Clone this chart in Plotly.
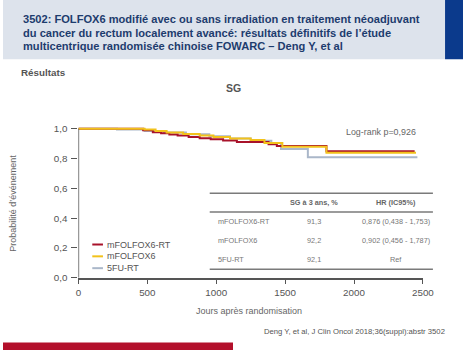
import plotly.graph_objects as go

W, H = 474, 355

# ---------------- data ----------------
series_names = ["mFOLFOX6-RT", "mFOLFOX6", "5FU-RT"]
series_colors = ["#a8122a", "#f2c21b", "#aab7c9"]

days_rt = [0, 470, 540, 600, 660, 720, 800, 880, 960, 1050, 1150, 1380, 1440, 1800, 2440]
surv_rt = [1.0, 0.99, 0.978, 0.97, 0.962, 0.955, 0.945, 0.937, 0.93, 0.922, 0.912, 0.897, 0.885, 0.85, 0.85]

days_fx = [0, 480, 560, 640, 760, 880, 980, 1100, 1250, 1350, 1480, 1800, 2450]
surv_fx = [1.0, 0.995, 0.985, 0.975, 0.965, 0.955, 0.945, 0.935, 0.925, 0.905, 0.88, 0.84, 0.84]

days_5fu = [0, 280, 480, 620, 780, 950, 1100, 1250, 1400, 1470, 1665, 2460]
surv_5fu = [1.0, 0.995, 0.985, 0.975, 0.963, 0.95, 0.935, 0.92, 0.905, 0.865, 0.81, 0.81]

x_ticks = [0, 500, 1000, 1500, 2000, 2500]
y_ticks = [0.0, 0.2, 0.4, 0.6, 0.8, 1.0]
y_tick_labels = ["0,0", "0,2", "0,4", "0,6", "0,8", "1,0"]

table_header = ["", "SG à 3 ans, %", "HR (IC95%)"]
table_arms = ["mFOLFOX6-RT", "mFOLFOX6", "5FU-RT"]
table_sg3 = ["91,3", "92,2", "92,1"]
table_hr = ["0,876 (0,438 - 1,753)", "0,902 (0,456 - 1,787)", "Ref"]

title_lines = [
    "3502: FOLFOX6 modifié avec ou sans irradiation en traitement néoadjuvant",
    "du cancer du rectum localement avancé: résultats définitifs de l’étude",
    "multicentrique randomisée chinoise FOWARC – Deng Y, et al",
]

FONT = "Liberation Sans, Arial, sans-serif"

def px(x):
    return x / W

def py(y):
    return 1 - y / H

# plot area in pixels
X0, X1 = 77.7, 432.7
Y0, Y1 = 281.7, 130.7  # y=0 and y=1.0
ppu = (Y0 - Y1)
YTOP = 1.04
dom_top = Y1 - (YTOP - 1.0) * ppu

fig = go.Figure()
for d, s, n, c in [(days_5fu, surv_5fu, series_names[2], series_colors[2]),
                   (days_rt, surv_rt, series_names[0], series_colors[0]),
                   (days_fx, surv_fx, series_names[1], series_colors[1])]:
    fig.add_trace(go.Scatter(x=d, y=s, mode="lines", name=n,
                             line=dict(color=c, width=2, shape="hv"),
                             showlegend=False, hoverinfo="skip"))

shapes = []
annotations = []

# header band
shapes.append(dict(type="rect", xref="paper", yref="paper", x0=0, x1=px(455.5), y0=py(60), y1=1,
                   fillcolor="#dde3ec", line=dict(width=0), layer="below"))
shapes.append(dict(type="rect", xref="paper", yref="paper", x0=px(455.5), x1=1, y0=py(60), y1=1,
                   fillcolor="#0b3a8c", line=dict(width=0), layer="below"))
# bottom red bar
shapes.append(dict(type="rect", xref="paper", yref="paper", x0=0, x1=px(237), y0=0, y1=py(347.5),
                   fillcolor="#b3102b", line=dict(width=0), layer="below"))

for i, t in enumerate(title_lines):
    annotations.append(dict(text="<b>%s</b>" % t, xref="paper", yref="paper",
                            x=px(19), y=py(19 + i * 14), xanchor="left", yanchor="middle",
                            showarrow=False, font=dict(family=FONT, size=11.1, color="#1d3c6e")))

annotations.append(dict(text="<b>Résultats</b>", xref="paper", yref="paper", x=px(17), y=py(74),
                        xanchor="left", yanchor="middle", showarrow=False,
                        font=dict(family=FONT, size=9.8, color="#555555")))
annotations.append(dict(text="<b>SG</b>", xref="paper", yref="paper", x=px(237), y=py(89.5),
                        xanchor="center", yanchor="middle", showarrow=False,
                        font=dict(family=FONT, size=10.5, color="#555555")))

# y axis line (0 to 1.0)
shapes.append(dict(type="line", xref="x", yref="y", x0=0, x1=0, y0=0, y1=1.0,
                   line=dict(color="#555555", width=1.5)))

# y title
annotations.append(dict(text="Probabilité d’événement", xref="paper", yref="paper", x=px(10), y=py(206),
                        xanchor="center", yanchor="middle", textangle=-90, showarrow=False,
                        font=dict(family=FONT, size=9, color="#666666")))
# x title
annotations.append(dict(text="Jours après randomisation", xref="paper", yref="paper", x=px(253), y=py(315.5),
                        xanchor="center", yanchor="middle", showarrow=False,
                        font=dict(family=FONT, size=9, color="#666666")))
# log-rank
annotations.append(dict(text="Log-rank p=0,926", xref="paper", yref="paper", x=px(390), y=py(134),
                        xanchor="center", yanchor="middle", showarrow=False,
                        font=dict(family=FONT, size=8.9, color="#666666")))
# citation
annotations.append(dict(text="Deng Y, et al, J Clin Oncol 2018;36(suppl):abstr 3502", xref="paper", yref="paper",
                        x=px(457), y=py(336), xanchor="right", yanchor="middle", showarrow=False,
                        font=dict(family=FONT, size=7.7, color="#555555")))

# legend (manual)
leg_y = [248, 260, 272]
for yy, n, c in zip(leg_y, series_names, series_colors):
    shapes.append(dict(type="line", xref="paper", yref="paper", x0=px(92), x1=px(103), y0=py(yy), y1=py(yy),
                       line=dict(color=c, width=2)))
    annotations.append(dict(text=n, xref="paper", yref="paper", x=px(105), y=py(yy), xanchor="left",
                            yanchor="middle", showarrow=False,
                            font=dict(family=FONT, size=9, color="#555555")))

# table
TX0, TX1 = 213, 443
for yy, w in [(196, 1.5), (215, 1.5), (273, 1.5)]:
    shapes.append(dict(type="line", xref="paper", yref="paper", x0=px(TX0), x1=px(TX1), y0=py(yy), y1=py(yy),
                       line=dict(color="#7a7a7a", width=w)))
col_x = [219.5, 320, 405]
TF = 7.3
annotations.append(dict(text="<b>%s</b>" % table_header[1], xref="paper", yref="paper", x=px(col_x[1]), y=py(205.5),
                        xanchor="center", yanchor="middle", showarrow=False,
                        font=dict(family=FONT, size=TF, color="#666666")))
annotations.append(dict(text="<b>%s</b>" % table_header[2], xref="paper", yref="paper", x=px(col_x[2]), y=py(205.5),
                        xanchor="center", yanchor="middle", showarrow=False,
                        font=dict(family=FONT, size=TF, color="#666666")))
row_y = [224.5, 244, 263.5]
for yy, a, s, h in zip(row_y, table_arms, table_sg3, table_hr):
    annotations.append(dict(text=a, xref="paper", yref="paper", x=px(col_x[0]), y=py(yy), xanchor="left",
                            yanchor="middle", showarrow=False, font=dict(family=FONT, size=TF, color="#777777")))
    annotations.append(dict(text=s, xref="paper", yref="paper", x=px(col_x[1]), y=py(yy), xanchor="center",
                            yanchor="middle", showarrow=False, font=dict(family=FONT, size=TF, color="#777777")))
    annotations.append(dict(text=h, xref="paper", yref="paper", x=px(col_x[2]), y=py(yy), xanchor="center",
                            yanchor="middle", showarrow=False, font=dict(family=FONT, size=TF, color="#777777")))

fig.update_layout(
    width=W, height=H, margin=dict(l=0, r=0, t=0, b=0),
    paper_bgcolor="white", plot_bgcolor="white",
    shapes=shapes, annotations=annotations,
    xaxis=dict(domain=[px(X0), px(X1)], range=[0, 2500], tickvals=x_ticks,
               ticktext=[str(v) for v in x_ticks], showgrid=False, zeroline=False,
               showline=True, linecolor="#555555", linewidth=1.5,
               ticks="outside", ticklen=5, tickwidth=1.2, tickcolor="#555555",
               tickfont=dict(family=FONT, size=9.8, color="#555555")),
    yaxis=dict(domain=[py(Y0), py(dom_top)], range=[0, YTOP], tickvals=y_ticks, ticktext=y_tick_labels,
               showgrid=False, zeroline=False, showline=False,
               ticks="outside", ticklen=6, tickwidth=1.2, tickcolor="#555555", ticklabelstandoff=2,
               tickfont=dict(family=FONT, size=9.8, color="#555555")),
    showlegend=False,
)

fig.write_html("out.html", post_script="document.body.style.margin='0';",
               config={"displayModeBar": False})
